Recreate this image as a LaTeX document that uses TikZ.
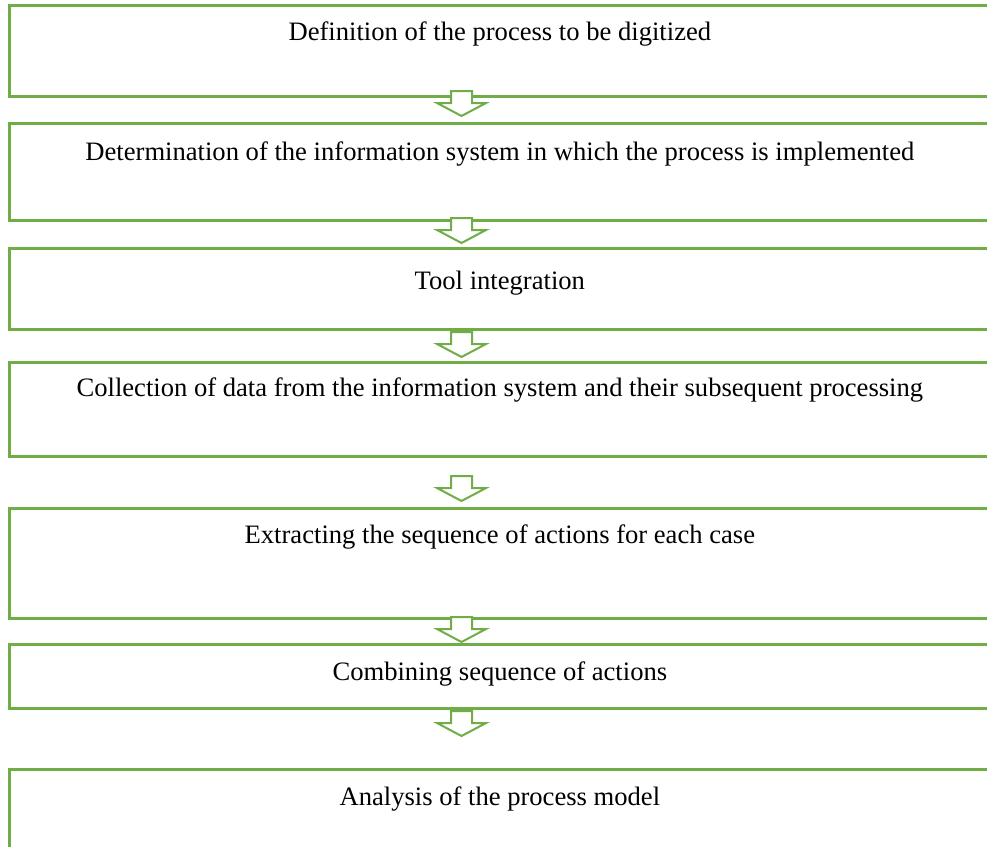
\documentclass[tikz,border=0pt]{standalone}
\usepackage{fontspec}
\setmainfont{Liberation Serif}
\definecolor{stepgreen}{HTML}{70AD47}

\begin{document}
\begin{tikzpicture}[x=1pt,y=-1pt]
    \tikzset{stepbox/.style={draw=stepgreen, line width=2.7pt, rectangle, inner sep=0pt,
                             minimum width=981pt, anchor=north west},
             steptext/.style={anchor=base, inner sep=0pt, font=\fontsize{26.6}{32}\selectfont},
             downarrow/.style={draw=stepgreen, fill=white, line width=2pt, line join=miter}}
    \useasboundingbox (0,0) rectangle (987,846);
    % boxes
    \node [stepbox, minimum height=91pt] (b1) at (8,4) {};
    \node [stepbox, minimum height=97pt] (b2) at (8,122) {};
    \node [stepbox, minimum height=81pt] (b3) at (8,247) {};
    \node [stepbox, minimum height=94pt] (b4) at (8,361) {};
    \node [stepbox, minimum height=110pt] (b5) at (8,507) {};
    \node [stepbox, minimum height=64pt] (b6) at (8,643) {};
    \node [stepbox, minimum height=80pt] (b7) at (8,768) {};
    % texts
    \node [steptext] (t1) at ([yshift=-36pt]b1.north) {Definition of the process to be digitized};
    \node [steptext] (t2) at ([yshift=-38pt]b2.north) {Determination of the information system in which the process is implemented};
    \node [steptext] (t3) at ([yshift=-42pt]b3.north) {Tool integration};
    \node [steptext] (t4) at ([yshift=-35pt]b4.north) {Collection of data from the information system and their subsequent processing};
    \node [steptext] (t5) at ([yshift=-36pt]b5.north) {Extracting the sequence of actions for each case};
    \node [steptext] (t6) at ([yshift=-37pt]b6.north) {Combining sequence of actions};
    \node [steptext] (t7) at ([yshift=-37pt]b7.north) {Analysis of the process model};
    % arrows
    \coordinate (a1) at (461.5,91);
    \coordinate (a2) at (461.5,218);
    \coordinate (a3) at (461.5,332);
    \coordinate (a4) at (461.5,476);
    \coordinate (a5) at (461.5,617);
    \coordinate (a6) at (461.5,711);
    \draw [downarrow] (a1) ++(-10.5,0) -- ++(21,0) -- ++(0,12) -- ++(14,0) -- ++(-24.5,13) -- ++(-24.5,-13) -- ++(14,0) -- cycle;
    \draw [downarrow] (a2) ++(-10.5,0) -- ++(21,0) -- ++(0,12) -- ++(14,0) -- ++(-24.5,13) -- ++(-24.5,-13) -- ++(14,0) -- cycle;
    \draw [downarrow] (a3) ++(-10.5,0) -- ++(21,0) -- ++(0,12) -- ++(14,0) -- ++(-24.5,13) -- ++(-24.5,-13) -- ++(14,0) -- cycle;
    \draw [downarrow] (a4) ++(-10.5,0) -- ++(21,0) -- ++(0,12) -- ++(14,0) -- ++(-24.5,13) -- ++(-24.5,-13) -- ++(14,0) -- cycle;
    \draw [downarrow] (a5) ++(-10.5,0) -- ++(21,0) -- ++(0,12) -- ++(14,0) -- ++(-24.5,13) -- ++(-24.5,-13) -- ++(14,0) -- cycle;
    \draw [downarrow] (a6) ++(-10.5,0) -- ++(21,0) -- ++(0,12) -- ++(14,0) -- ++(-24.5,13) -- ++(-24.5,-13) -- ++(14,0) -- cycle;
\end{tikzpicture}
\end{document}
